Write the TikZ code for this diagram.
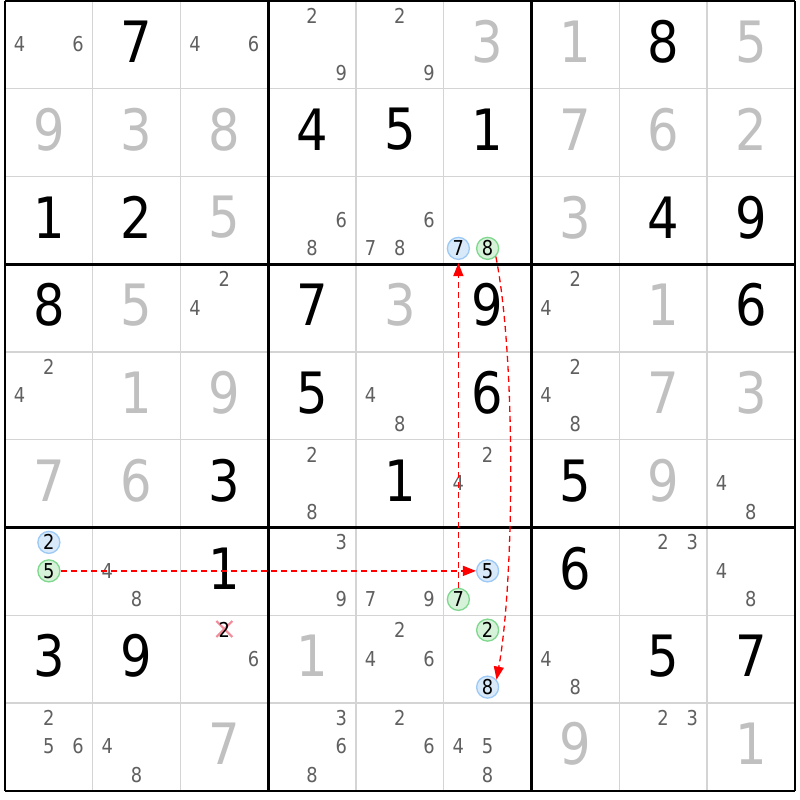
\documentclass[tikz,border=0pt]{standalone}
\usepackage{fontspec}
\setmainfont{DejaVu Sans}
\newfontfamily\digfont[FakeStretch=0.87]{DejaVu Sans}
\usetikzlibrary{arrows.meta}
\definecolor{solvedc}{HTML}{C0C0C0}
\definecolor{candc}{HTML}{606060}
\definecolor{thinc}{HTML}{D4D4D4}
\definecolor{bfill}{HTML}{D8E9FA}
\definecolor{bdraw}{HTML}{9CC9F5}
\definecolor{gfill}{HTML}{D6F2D8}
\definecolor{gdraw}{HTML}{7FD88E}
\definecolor{chainc}{HTML}{FF0000}
\definecolor{xc}{HTML}{F28C98}
\tikzset{
  big/.style={inner sep=0pt, font=\digfont\fontsize{57}{57}\selectfont},
  givenbig/.style={big, text=black},
  solvedbig/.style={big, text=solvedc},
  cand/.style={inner sep=0pt, font=\digfont\fontsize{20.5}{20.5}\selectfont, text=candc},
  elim/.style={cand, text=black},
  bluec/.style={cand, circle, text=black, draw=bdraw, fill=bfill, line width=1.3pt, minimum size=22pt},
  greenc/.style={cand, circle, text=black, draw=gdraw, fill=gfill, line width=1.3pt, minimum size=22pt},
  chain/.style={draw=chainc, line width=1.3pt, dash pattern=on 6pt off 4pt, -{Triangle[length=13pt,width=10pt]}},
  thinline/.style={draw=thinc, line width=1.3pt},
  thickline/.style={draw=black, line width=2.5pt},
  xmark/.style={draw=xc, line width=2.2pt}
}
\newcommand\givn[3]{\node[givenbig] (v#1#2) at ({5+87.75*(#2-0.5)},{-(1+87.75*(#1-0.5))+3}) {#3};}
\newcommand\solv[3]{\node[solvedbig] (v#1#2) at ({5+87.75*(#2-0.5)},{-(1+87.75*(#1-0.5))+3}) {#3};}
\newcommand\cnd[4][cand]{%
  \pgfmathsetmacro\candxx{5+87.75*(#3-0.5)+29.25*(mod(#4-1,3)-1)}%
  \pgfmathsetmacro\candyy{-(1+87.75*(#2-0.5))+29-28.5*floor((#4-1)/3)}%
  \node[#1] (k#2#3#4) at (\candxx,\candyy) {#4};}
\begin{document}
\begin{tikzpicture}[x=1pt,y=1pt]
\fill[white] (0,0) rectangle (800,-800);
\useasboundingbox (0,0) rectangle (800,-800);
% grid
\foreach \i in {1,2,4,5,7,8} {
  \draw[thinline] ({5+87.75*\i},-1) -- ({5+87.75*\i},-790.75);
  \draw[thinline] (5,{-(1+87.75*\i)}) -- (794.75,{-(1+87.75*\i)});
}
\foreach \i in {0,3,6,9} {
  \draw[thickline] ({5+87.75*\i},-1) -- ({5+87.75*\i},-790.75);
  \draw[thickline] (5,{-(1+87.75*\i)}) -- (794.75,{-(1+87.75*\i)});
}
% elimination mark
\coordinate (xm) at (224.4,-629);
\draw[xmark] (xm) ++(-8,8) -- ++(16,-16);
\draw[xmark] (xm) ++(-8,-8) -- ++(16,16);
% row 1
\cnd{1}{1}{4}\cnd{1}{1}{6}
\givn{1}{2}{7}
\cnd{1}{3}{4}\cnd{1}{3}{6}
\cnd{1}{4}{2}\cnd{1}{4}{9}
\cnd{1}{5}{2}\cnd{1}{5}{9}
\solv{1}{6}{3}\solv{1}{7}{1}\givn{1}{8}{8}\solv{1}{9}{5}
% row 2
\solv{2}{1}{9}\solv{2}{2}{3}\solv{2}{3}{8}\givn{2}{4}{4}\givn{2}{5}{5}\givn{2}{6}{1}\solv{2}{7}{7}\solv{2}{8}{6}\solv{2}{9}{2}
% row 3
\givn{3}{1}{1}\givn{3}{2}{2}\solv{3}{3}{5}
\cnd{3}{4}{6}\cnd{3}{4}{8}
\cnd{3}{5}{6}\cnd{3}{5}{7}\cnd{3}{5}{8}
\cnd[bluec]{3}{6}{7}\cnd[greenc]{3}{6}{8}
\solv{3}{7}{3}\givn{3}{8}{4}\givn{3}{9}{9}
% row 4
\givn{4}{1}{8}\solv{4}{2}{5}\cnd{4}{3}{2}\cnd{4}{3}{4}\givn{4}{4}{7}\solv{4}{5}{3}\givn{4}{6}{9}\cnd{4}{7}{2}\cnd{4}{7}{4}\solv{4}{8}{1}\givn{4}{9}{6}
% row 5
\cnd{5}{1}{2}\cnd{5}{1}{4}\solv{5}{2}{1}\solv{5}{3}{9}\givn{5}{4}{5}\cnd{5}{5}{4}\cnd{5}{5}{8}\givn{5}{6}{6}\cnd{5}{7}{2}\cnd{5}{7}{4}\cnd{5}{7}{8}\solv{5}{8}{7}\solv{5}{9}{3}
% row 6
\solv{6}{1}{7}\solv{6}{2}{6}\givn{6}{3}{3}\cnd{6}{4}{2}\cnd{6}{4}{8}\givn{6}{5}{1}\cnd{6}{6}{2}\cnd{6}{6}{4}\givn{6}{7}{5}\solv{6}{8}{9}\cnd{6}{9}{4}\cnd{6}{9}{8}
% row 7
\cnd[bluec]{7}{1}{2}\cnd[greenc]{7}{1}{5}\cnd{7}{2}{4}\cnd{7}{2}{8}\givn{7}{3}{1}\cnd{7}{4}{3}\cnd{7}{4}{9}\cnd{7}{5}{7}\cnd{7}{5}{9}\cnd[bluec]{7}{6}{5}\cnd[greenc]{7}{6}{7}\givn{7}{7}{6}\cnd{7}{8}{2}\cnd{7}{8}{3}\cnd{7}{9}{4}\cnd{7}{9}{8}
% row 8
\givn{8}{1}{3}\givn{8}{2}{9}\cnd[elim]{8}{3}{2}\cnd{8}{3}{6}\solv{8}{4}{1}\cnd{8}{5}{2}\cnd{8}{5}{4}\cnd{8}{5}{6}\cnd[greenc]{8}{6}{2}\cnd[bluec]{8}{6}{8}\cnd{8}{7}{4}\cnd{8}{7}{8}\givn{8}{8}{5}\givn{8}{9}{7}
% row 9
\cnd{9}{1}{2}\cnd{9}{1}{5}\cnd{9}{1}{6}\cnd{9}{2}{4}\cnd{9}{2}{8}\solv{9}{3}{7}\cnd{9}{4}{3}\cnd{9}{4}{6}\cnd{9}{4}{8}\cnd{9}{5}{2}\cnd{9}{5}{6}\cnd{9}{6}{4}\cnd{9}{6}{5}\cnd{9}{6}{8}\solv{9}{7}{9}\cnd{9}{8}{2}\cnd{9}{8}{3}\solv{9}{9}{1}
% chain
\draw[chain] (k715) -- (k765);
\draw[chain, shorten >=3pt] (k767) -- (k367);
\draw[chain] (k368.-45) .. controls +(20,-100) and +(18,100) .. (k868.40);
\end{tikzpicture}
\end{document}
